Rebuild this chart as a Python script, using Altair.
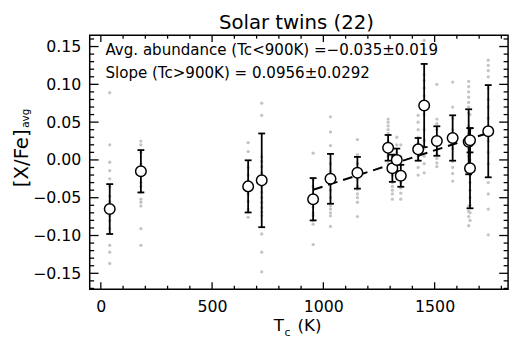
import altair as alt
import pandas as pd

# Condensation temperature (K) of each element
tc = [40, 180, 662, 723, 954, 1032, 1153, 1291, 1310, 1330, 1348, 1426,
      1453, 1510, 1581, 1653, 1659, 1659, 1741]
# Average [X/Fe] and its error
avg = [-0.065, -0.015, -0.035, -0.027, -0.052, -0.025, -0.017, 0.016, -0.011,
       0.000, -0.021, 0.014, 0.072, 0.025, 0.029, 0.024, 0.026, -0.011, 0.038]
err = [0.033, 0.028, 0.0345, 0.062, 0.028, 0.033, 0.021, 0.017, 0.018,
       0.015, 0.0145, 0.015, 0.055, 0.0195, 0.030, 0.043, 0.016, 0.053, 0.061]
# Individual star values (grey dots)
stars = [
    [0.089, 0.020, -0.003, -0.014, -0.025, -0.035, -0.048, -0.055, -0.060, -0.065, -0.068, -0.074, -0.080, -0.091, -0.113, -0.122, -0.137],
    [0.025, 0.020, 0.010, -0.005, -0.015, -0.030, -0.035, -0.043, -0.052, -0.056, -0.061, -0.091, -0.113],
    [0.023, 0.011, -0.010, -0.020, -0.030, -0.045, -0.055, -0.065, -0.069, -0.076],
    [0.075, 0.059, 0.004, -0.002, -0.009, -0.017, -0.025, -0.035, -0.043, -0.050, -0.056, -0.063, -0.069, -0.074, -0.098, -0.122, -0.148],
    [0.009, -0.026, -0.035, -0.048, -0.055, -0.062, -0.070, -0.074, -0.080, -0.085, -0.112],
    [0.057, 0.037, 0.019, -0.005, -0.015, -0.040, -0.050, -0.061, -0.065, -0.070, -0.074, -0.088],
    [0.027, 0.007, -0.005, -0.025, -0.035, -0.039, -0.045, -0.050, -0.056, -0.075],
    [0.054, 0.050, 0.045, 0.040, 0.035, 0.025, 0.005, -0.005],
    [0.005, -0.020, -0.030, -0.035, -0.040, -0.045, -0.052],
    [0.030, 0.020, 0.010, -0.010, -0.025],
    [0.020, 0.005, -0.022, -0.030, -0.037, -0.044, -0.052],
    [0.059, 0.050, 0.040, 0.030, 0.022, 0.005, 0.000, -0.010, -0.020],
    [0.158, 0.147, 0.113, 0.105, 0.095, 0.085, 0.074, 0.060, 0.040, 0.026, 0.015, 0.005, -0.005, -0.017],
    [0.100, 0.054, 0.048, 0.040, 0.013, 0.008, 0.002, -0.004, -0.009],
    [0.103, 0.070, 0.055, 0.040, 0.015, -0.002, -0.010, -0.018, -0.028],
    [0.104, 0.097, 0.090, 0.083, 0.076, 0.070, 0.062, 0.045, 0.035, 0.015, 0.005, -0.061, -0.068, -0.075, -0.087],
    [0.060, 0.040, 0.030, 0.020, 0.010, 0.000, -0.010, -0.020],
    [-0.030, -0.040, -0.050, -0.060, -0.070, -0.080],
    [0.132, 0.125, 0.118, 0.110, 0.095, 0.080, 0.070, 0.055, 0.040, 0.025, 0.010, -0.005, -0.030, -0.045, -0.065, -0.099],
]
# Linear fit for Tc > 900 K (endpoints)
fit_tc = [954, 1741]
fit_val = [-0.0395, 0.0357]

x_major = [0, 500, 1000, 1500]
x_minor = [100, 200, 300, 400, 600, 700, 800, 900, 1100, 1200, 1300, 1400, 1600, 1700, 1800]
y_major = [-0.15, -0.10, -0.05, 0.00, 0.05, 0.10, 0.15]
y_minor = [-0.17, -0.16, -0.14, -0.13, -0.12, -0.11, -0.09, -0.08, -0.07, -0.06,
           -0.04, -0.03, -0.02, -0.01, 0.01, 0.02, 0.03, 0.04, 0.06, 0.07, 0.08,
           0.09, 0.11, 0.12, 0.13, 0.14, 0.16]

title_text = "Solar twins (22)"
note1 = "Avg. abundance (Tc<900K) =\u22120.035\u00b10.019"
note2 = "Slope (Tc>900K) = 0.0956\u00b10.0292"

W, H = 425, 258
FONT = "DejaVu Sans"

xs = alt.Scale(domain=[-50, 1830], nice=False, zero=False)
ys = alt.Scale(domain=[-0.171, 0.165], nice=False, zero=False)
xaxis = alt.Axis(values=x_major, format="d", ticks=False, domain=False, grid=False,
                 labelFontSize=16, labelPadding=10, labelFont=FONT, labelColor="black",
                 labelFlush=False, labelOverlap=False)
yaxis = alt.Axis(values=y_major, format=".2f", ticks=False, domain=False, grid=False,
                 labelFontSize=16, labelPadding=9, labelFont=FONT, labelColor="black",
                 labelFlush=False, labelOverlap=False)


def X(f):
    return alt.X(f, type="quantitative", scale=xs, axis=xaxis, title=None)


def Y(f):
    return alt.Y(f, type="quantitative", scale=ys, axis=yaxis, title=None)


main = pd.DataFrame({"tc": tc, "avg": avg, "err": err})
main["lo"] = main["avg"] - main["err"]
main["hi"] = main["avg"] + main["err"]

rows = []
for t, vals in zip(tc, stars):
    for v in vals:
        rows.append({"tc": t, "v": v})
dots = pd.DataFrame(rows)
fit = pd.DataFrame({"tc": fit_tc, "v": fit_val})

dot_layer = alt.Chart(dots).mark_circle(size=11, color="#c4c4c4", opacity=1).encode(x=X("tc"), y=Y("v"))
fit_layer = alt.Chart(fit).mark_line(color="black", strokeWidth=2, strokeDash=[10, 6]).encode(x=X("tc"), y=Y("v"))
bar_layer = alt.Chart(main).mark_rule(color="black", strokeWidth=1.8).encode(x=X("tc"), y=Y("lo"), y2="hi")
cap_hi = alt.Chart(main).mark_rule(color="black", strokeWidth=1.8, xOffset=-3.5, x2Offset=3.5).encode(
    x=X("tc"), x2="tc", y=Y("hi"))
cap_lo = alt.Chart(main).mark_rule(color="black", strokeWidth=1.8, xOffset=-3.5, x2Offset=3.5).encode(
    x=X("tc"), x2="tc", y=Y("lo"))
pt_layer = alt.Chart(main).mark_point(shape="circle", size=115, filled=False, fill="white",
                                      fillOpacity=1, stroke="black", strokeWidth=1.5, opacity=1).encode(
    x=X("tc"), y=Y("avg"))

xmaj = pd.DataFrame({"v": x_major})
xmin = pd.DataFrame({"v": x_minor})
ymaj = pd.DataFrame({"v": y_major})
ymin = pd.DataFrame({"v": y_minor})
tk = dict(color="black", strokeWidth=1.3)
ticks = [
    alt.Chart(xmaj).mark_rule(**tk).encode(x=X("v"), y=alt.value(H), y2=alt.value(H - 7)),
    alt.Chart(xmaj).mark_rule(**tk).encode(x=X("v"), y=alt.value(0), y2=alt.value(7)),
    alt.Chart(xmin).mark_rule(**tk).encode(x=X("v"), y=alt.value(H), y2=alt.value(H - 3.5)),
    alt.Chart(xmin).mark_rule(**tk).encode(x=X("v"), y=alt.value(0), y2=alt.value(3.5)),
    alt.Chart(ymaj).mark_rule(**tk).encode(y=Y("v"), x=alt.value(0), x2=alt.value(9)),
    alt.Chart(ymaj).mark_rule(**tk).encode(y=Y("v"), x=alt.value(W), x2=alt.value(W - 9)),
    alt.Chart(ymin).mark_rule(**tk).encode(y=Y("v"), x=alt.value(0), x2=alt.value(4.5)),
    alt.Chart(ymin).mark_rule(**tk).encode(y=Y("v"), x=alt.value(W), x2=alt.value(W - 4.5)),
]

one = pd.DataFrame({"a": [0]})


def txt(s, x, y, size, align="left", baseline="alphabetic", angle=0):
    return alt.Chart(one).mark_text(text=s, font=FONT, fontSize=size, align=align,
                                    baseline=baseline, angle=angle, color="black").encode(
        x=alt.value(x), y=alt.value(y))


texts = [
    txt(title_text, 210, -6, 20, align="center"),
    txt(note1, 16, 20, 15.3),
    txt(note2, 16, 43, 15.3),
    txt("T", 187, 300, 17),
    txt("c", 198, 306, 11),
    txt("(K)", 211, 300, 17),
    txt("[X/Fe]", -63, 125, 20, align="center", angle=270),
    txt("avg", -62, 94, 10.5, align="left", angle=270),
]

chart = alt.layer(dot_layer, fit_layer, bar_layer, cap_hi, cap_lo, pt_layer, *ticks, *texts).properties(
    width=W, height=H,
    autosize=alt.AutoSizeParams(type="none"),
    padding={"left": 83, "top": 25, "right": 4, "bottom": 50},
).configure_view(stroke="black", strokeWidth=1.5)

chart.save("out.html", embed_options={"renderer": "svg", "actions": False})
